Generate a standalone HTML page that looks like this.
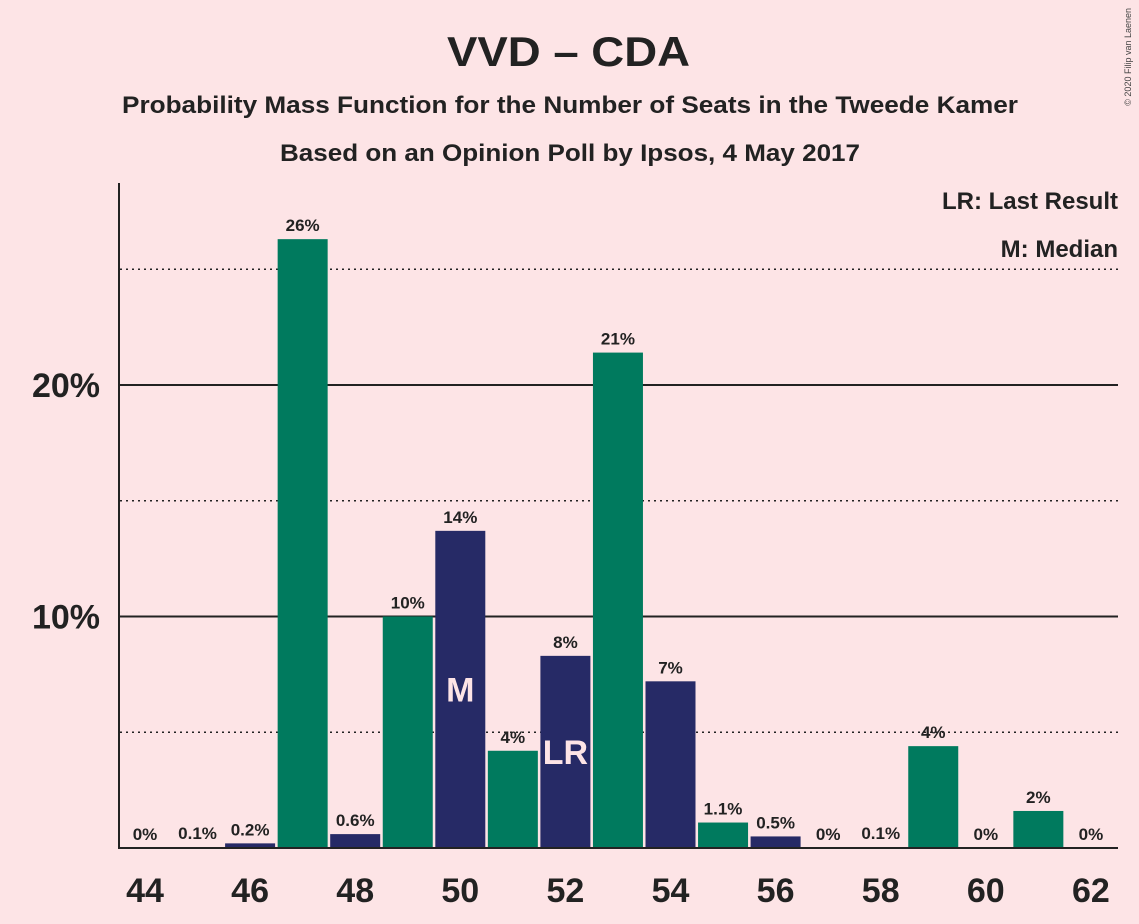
<!DOCTYPE html>
<html><head><meta charset="utf-8"><style>
body{margin:0;background:#fde4e6;}
svg{display:block;font-family:"Liberation Sans",sans-serif;}
</style></head><body>
<svg id="chart" width="1139" height="924" viewBox="0 0 1139 924">
<rect width="1139" height="924" fill="#fde4e6"/>
<text x="447" y="66" textLength="243" lengthAdjust="spacingAndGlyphs" font-size="42" font-weight="bold" fill="#222">VVD – CDA</text>
<text x="122" y="113" textLength="896" lengthAdjust="spacingAndGlyphs" font-size="24" font-weight="bold" fill="#222">Probability Mass Function for the Number of Seats in the Tweede Kamer</text>
<text x="280" y="161" textLength="580" lengthAdjust="spacingAndGlyphs" font-size="24" font-weight="bold" fill="#222">Based on an Opinion Poll by Ipsos, 4 May 2017</text>
<text x="1131" y="8" font-size="9" fill="#444" transform="rotate(-90 1131 8)" text-anchor="end">© 2020 Filip van Laenen</text>
<text x="1118" y="209" text-anchor="end" font-size="24" font-weight="bold" fill="#222">LR: Last Result</text>
<text x="1118" y="257" text-anchor="end" font-size="24" font-weight="bold" fill="#222">M: Median</text>
<g id="grid"></g><g id="bars"></g><g id="axes"></g>
</svg>
<script>
const seats=[44,45,46,47,48,49,50,51,52,53,54,55,56,57,58,59,60,61,62];
const probs=[0,0.04,0.2,26.3,0.6,10.0,13.7,4.2,8.3,21.4,7.2,1.1,0.5,0,0.04,4.4,0,1.6,0];
const labels=["0%","0.1%","0.2%","26%","0.6%","10%","14%","4%","8%","21%","7%","1.1%","0.5%","0%","0.1%","4%","0%","2%","0%"];
const xTicks=[44,46,48,50,52,54,56,58,60,62];
const yMajor=[10,20];
const yMinor=[5,15,25];
const medianSeat=50, lastResultSeat=52;
const NS="http://www.w3.org/2000/svg";
const x=s=>145+(s-44)*52.55;
const y=v=>848-v*23.15;
function mk(tag,attrs,parent,text){const e=document.createElementNS(NS,tag);for(const k in attrs)e.setAttribute(k,attrs[k]);if(text!==undefined)e.textContent=text;parent.appendChild(e);return e;}
const grid=document.getElementById('grid'),bars=document.getElementById('bars'),axes=document.getElementById('axes');
yMinor.forEach(v=>{const l=mk('line',{x1:120,x2:1118,y1:y(v),y2:y(v),stroke:'#222','stroke-width':1.5,'stroke-dasharray':'2,4'},grid);

});
yMajor.forEach(v=>{const l=mk('line',{x1:120,x2:1118,y1:y(v),y2:y(v),stroke:'#222','stroke-width':2},grid);


const t=mk('text',{x:100,y:y(v)+12,'text-anchor':'end','font-size':34,'font-weight':'bold',fill:'#222'},axes,v+'%');

});
seats.forEach((s,i)=>{const v=probs[i];const col=s%2===0?'#262a66':'#007a5e';
if(v>0){const r=mk('rect',{x:x(s)-25,y:y(v),width:50,height:848-y(v),fill:col},bars);

}
const t=mk('text',{x:x(s),y:y(v)-8,'text-anchor':'middle','font-size':17,'font-weight':'bold',fill:'#222'},bars,labels[i]);


if(s===medianSeat){const m=mk('text',{x:x(s),y:y(probs[i]/2)+12,'text-anchor':'middle','font-size':34,'font-weight':'bold',fill:'#fde4e6'},bars,'M');

}
if(s===lastResultSeat){const m=mk('text',{x:x(s),y:y(probs[i]/2)+12,'text-anchor':'middle','font-size':34,'font-weight':'bold',fill:'#fde4e6'},bars,'LR');

}});
const ya=mk('line',{x1:119,x2:119,y1:183,y2:849,stroke:'#222','stroke-width':2},axes);


const xa=mk('line',{x1:118,x2:1118,y1:848,y2:848,stroke:'#222','stroke-width':2},axes);


xTicks.forEach(s=>{const t=mk('text',{x:x(s),y:902,'text-anchor':'middle','font-size':34,'font-weight':'bold',fill:'#222'},axes,s);

});
</script>
</body></html>
